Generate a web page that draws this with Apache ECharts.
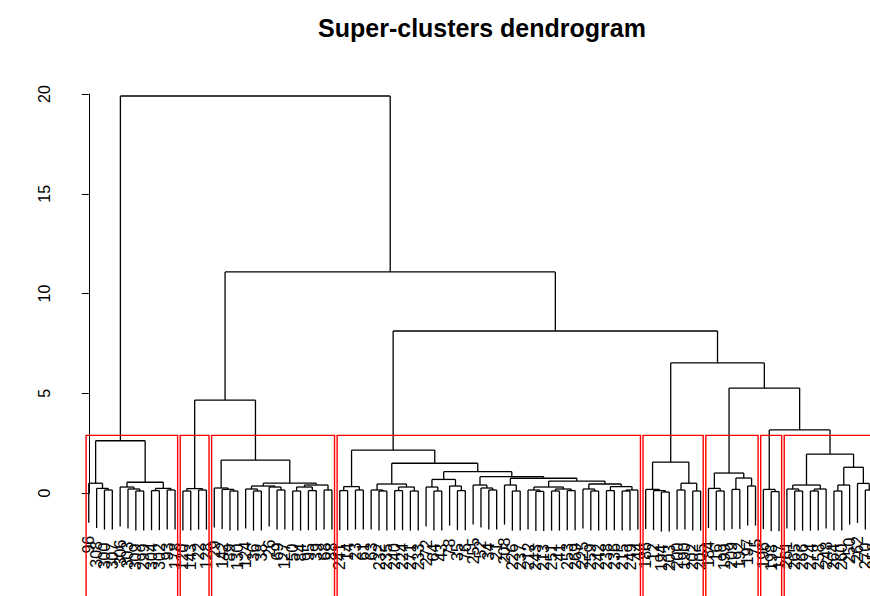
<!DOCTYPE html>
<html><head><meta charset="utf-8">
<script src="https://cdn.jsdelivr.net/npm/echarts@6/dist/echarts.min.js"></script>
<style>html,body{margin:0;padding:0;background:#fff}#c{width:870px;height:596px}</style>
</head><body><div id="c"></div>
<script>
const titleText = 'Super-clusters dendrogram';
const yTicks = [0, 5, 10, 15, 20];
const nClusters = 8;

// leaf labels in dendrogram order (position 0..100)
const leafLabels = [
 '96','308','300','307','306','303','309','299','304','302','93','178',
 '120','143','22','128',
 '29','142','89','130','124','36','38','26','69','127','50','84','95','39','68','88',
 '241','14','23','61','63','232','235','240','224','271','233','272','64','43','78','35','76','255','52','34','21','208','226','237','212','243','213','251','41','253','269','225','259','242','238','236','215','249','44',
 '186','12','194','203','200','190','202','205',
 '184','16','199','209','192','197','75',
 '196','198','117',
 '261','265','266','274','258','248','264','260','250','262','270','256'
];

// merge nodes: [height, left, right]; a number is a leaf position
const cluster1 = [2.62, [0.49, 0, [0.23, 1, [0.15, 2, 3]]], [0.54, [0.3, 4, [0.2, 5, [0.1, 6, 7]]], [0.23, [0.12, 8, 9], [0.15, 10, 11]]]];
const cluster2 = [0.22, [0.1, 12, 13], [0.15, 14, 15]];
const cluster3 = [1.65, [0.25, 16, [0.18, 17, [0.1, 18, 19]]], [0.49, [0.35, [0.2, 20, [0.1, 21, 22]], [0.3, 23, [0.15, 24, 25]]], [0.4, [0.3, [0.1, 26, 27], [0.12, 28, 29]], [0.15, 30, 31]]]];
const c4E  = [0.45, [0.2, 63, [0.1, 64, 65]], [0.32, [0.12, 66, 67], [0.15, [0.1, 68, 69], 70]]];
const c4D  = [0.6, [0.3, [0.15, 56, [0.08, 57, 58]], [0.2, [0.1, 59, 60], [0.12, 61, 62]]], c4E];
const c4C  = [0.74, [0.4, 53, [0.1, 54, 55]], c4D];
const c4B  = [0.82, [0.4, 49, [0.25, 50, [0.15, 51, 52]]], c4C];
const c4A  = [0.68, [0.3, 43, [0.1, 44, 45]], [0.35, 46, [0.12, 47, 48]]];
const c4Ra = [0.45, [0.15, 36, [0.1, 37, 38]], [0.3, [0.12, 39, 40], [0.1, 41, 42]]];
const cluster4 = [2.15, [0.32, [0.12, 32, 33], [0.15, 34, 35]], [1.49, c4Ra, [1.07, c4A, c4B]]];
const cluster5 = [1.55, [0.18, 71, [0.12, 72, [0.05, 73, 74]]], [0.49, [0.15, 75, 76], [0.1, 77, 78]]];
const cluster6 = [1.0, [0.23, 79, [0.1, 80, 81]], [0.75, [0.18, 82, 83], [0.35, 84, 85]]];
const cluster7 = [0.18, 86, [0.07, 87, 88]];
const cluster8 = [1.95, [0.4, [0.2, 89, [0.1, 90, 91]], [0.2, [0.1, 92, 93], 94]], [1.29, [0.4, [0.1, 95, 96], 97], [0.48, 98, [0.15, 99, 100]]]];
const upperTree = [19.9, cluster1, [11.08, [4.66, cluster2, cluster3], [8.12, cluster4, [6.52, cluster5, [5.26, cluster6, [3.16, cluster7, cluster8]]]]]];

// ---- derived geometry (data units) ----
const isLeaf = n => typeof n === 'number';
const nodeX = n => isLeaf(n) ? n : (nodeX(n[1]) + nodeX(n[2])) / 2;
const heights = [];
(function collect(n){ if (isLeaf(n)) return; heights.push(n[0]); collect(n[1]); collect(n[2]); })(upperTree);
const maxH = Math.max(...heights), minH = Math.min(...heights);
const hang = 0.1 * (maxH - minH);
const segments = [], leafEnds = [];
(function walk(n){
  if (isLeaf(n)) return;
  const h = n[0];
  segments.push([nodeX(n[1]), h, nodeX(n[2]), h]);
  [n[1], n[2]].forEach(c => {
    if (isLeaf(c)) { segments.push([c, h, c, h - hang]); leafEnds.push([c, h - hang, leafLabels[c]]); }
    else { const cx = nodeX(c); segments.push([cx, h, cx, c[0]]); walk(c); }
  });
})(upperTree);
const sortedH = heights.slice().sort((a, b) => b - a);
const cutH = (sortedH[nClusters - 2] + sortedH[nClusters - 1]) / 2;
const rects = [];
(function cut(n){
  if (isLeaf(n) || n[0] < cutH) {
    const lv = []; (function g(m){ if (isLeaf(m)) lv.push(m); else { g(m[1]); g(m[2]); } })(n);
    rects.push([Math.min(...lv) - 0.34, Math.max(...lv) + 0.33, cutH, -8]);
  } else { cut(n[1]); cut(n[2]); }
})(upperTree);

// visible window of the (wider, cropped) plot region, in leaf positions
const xMin = -4, leafStepPx = 7.844, gridLeft = 57.4, gridWidth = 870 - gridLeft;
const xMax = xMin + gridWidth / leafStepPx;

const FONT = '"Liberation Sans", Arial, Helvetica, sans-serif';
const chart = echarts.init(document.getElementById('c'), null, {renderer: 'svg'});
chart.setOption({
  animation: false,
  backgroundColor: '#fff',
  graphic: [{type: 'text', x: 482, y: 28, style: {text: titleText, font: 'bold 25px ' + FONT, fill: '#000', textAlign: 'center', textVerticalAlign: 'middle'}}],
  grid: {left: gridLeft, top: 94, right: 0, height: 399, containLabel: false},
  xAxis: {type: 'value', min: xMin, max: xMax, show: false},
  yAxis: {type: 'value', min: yTicks[0], max: yTicks[yTicks.length - 1], interval: 5,
    axisLine: {show: true, lineStyle: {color: '#000', width: 1}},
    axisTick: {show: true, length: 7, lineStyle: {color: '#000', width: 1}},
    axisLabel: {rotate: 90, fontSize: 16, color: '#000', fontFamily: FONT, margin: 5},
    splitLine: {show: false}},
  series: [
    {type: 'custom', data: segments, clip: false, silent: true,
     encode: {x: [0, 2], y: [1, 3]},
     renderItem: (p, api) => {
       const a = api.coord([api.value(0), api.value(1)]), b = api.coord([api.value(2), api.value(3)]);
       return {type: 'line', shape: {x1: a[0], y1: a[1], x2: b[0], y2: b[1]}, style: {stroke: '#000', lineWidth: 1.3}};
     }},
    {type: 'custom', data: leafEnds, clip: false, silent: true,
     encode: {x: 0, y: 1},
     renderItem: (p, api) => {
       const a = api.coord([api.value(0), api.value(1)]);
       return {type: 'text', x: a[0], y: a[1] + 13, rotation: Math.PI / 2,
         style: {text: leafLabels[api.value(0)], font: '16px ' + FONT, fill: '#000', textAlign: 'right', textVerticalAlign: 'middle'}};
     }},
    {type: 'custom', data: rects, clip: false, silent: true,
     encode: {x: [0, 1], y: [2, 3]},
     renderItem: (p, api) => {
       const a = api.coord([api.value(0), api.value(2)]), b = api.coord([api.value(1), api.value(3)]);
       return {type: 'rect', shape: {x: a[0], y: a[1], width: b[0] - a[0], height: b[1] - a[1]}, style: {stroke: '#ff0000', fill: 'none', lineWidth: 1.4}};
     }}
  ]
});
</script></body></html>
